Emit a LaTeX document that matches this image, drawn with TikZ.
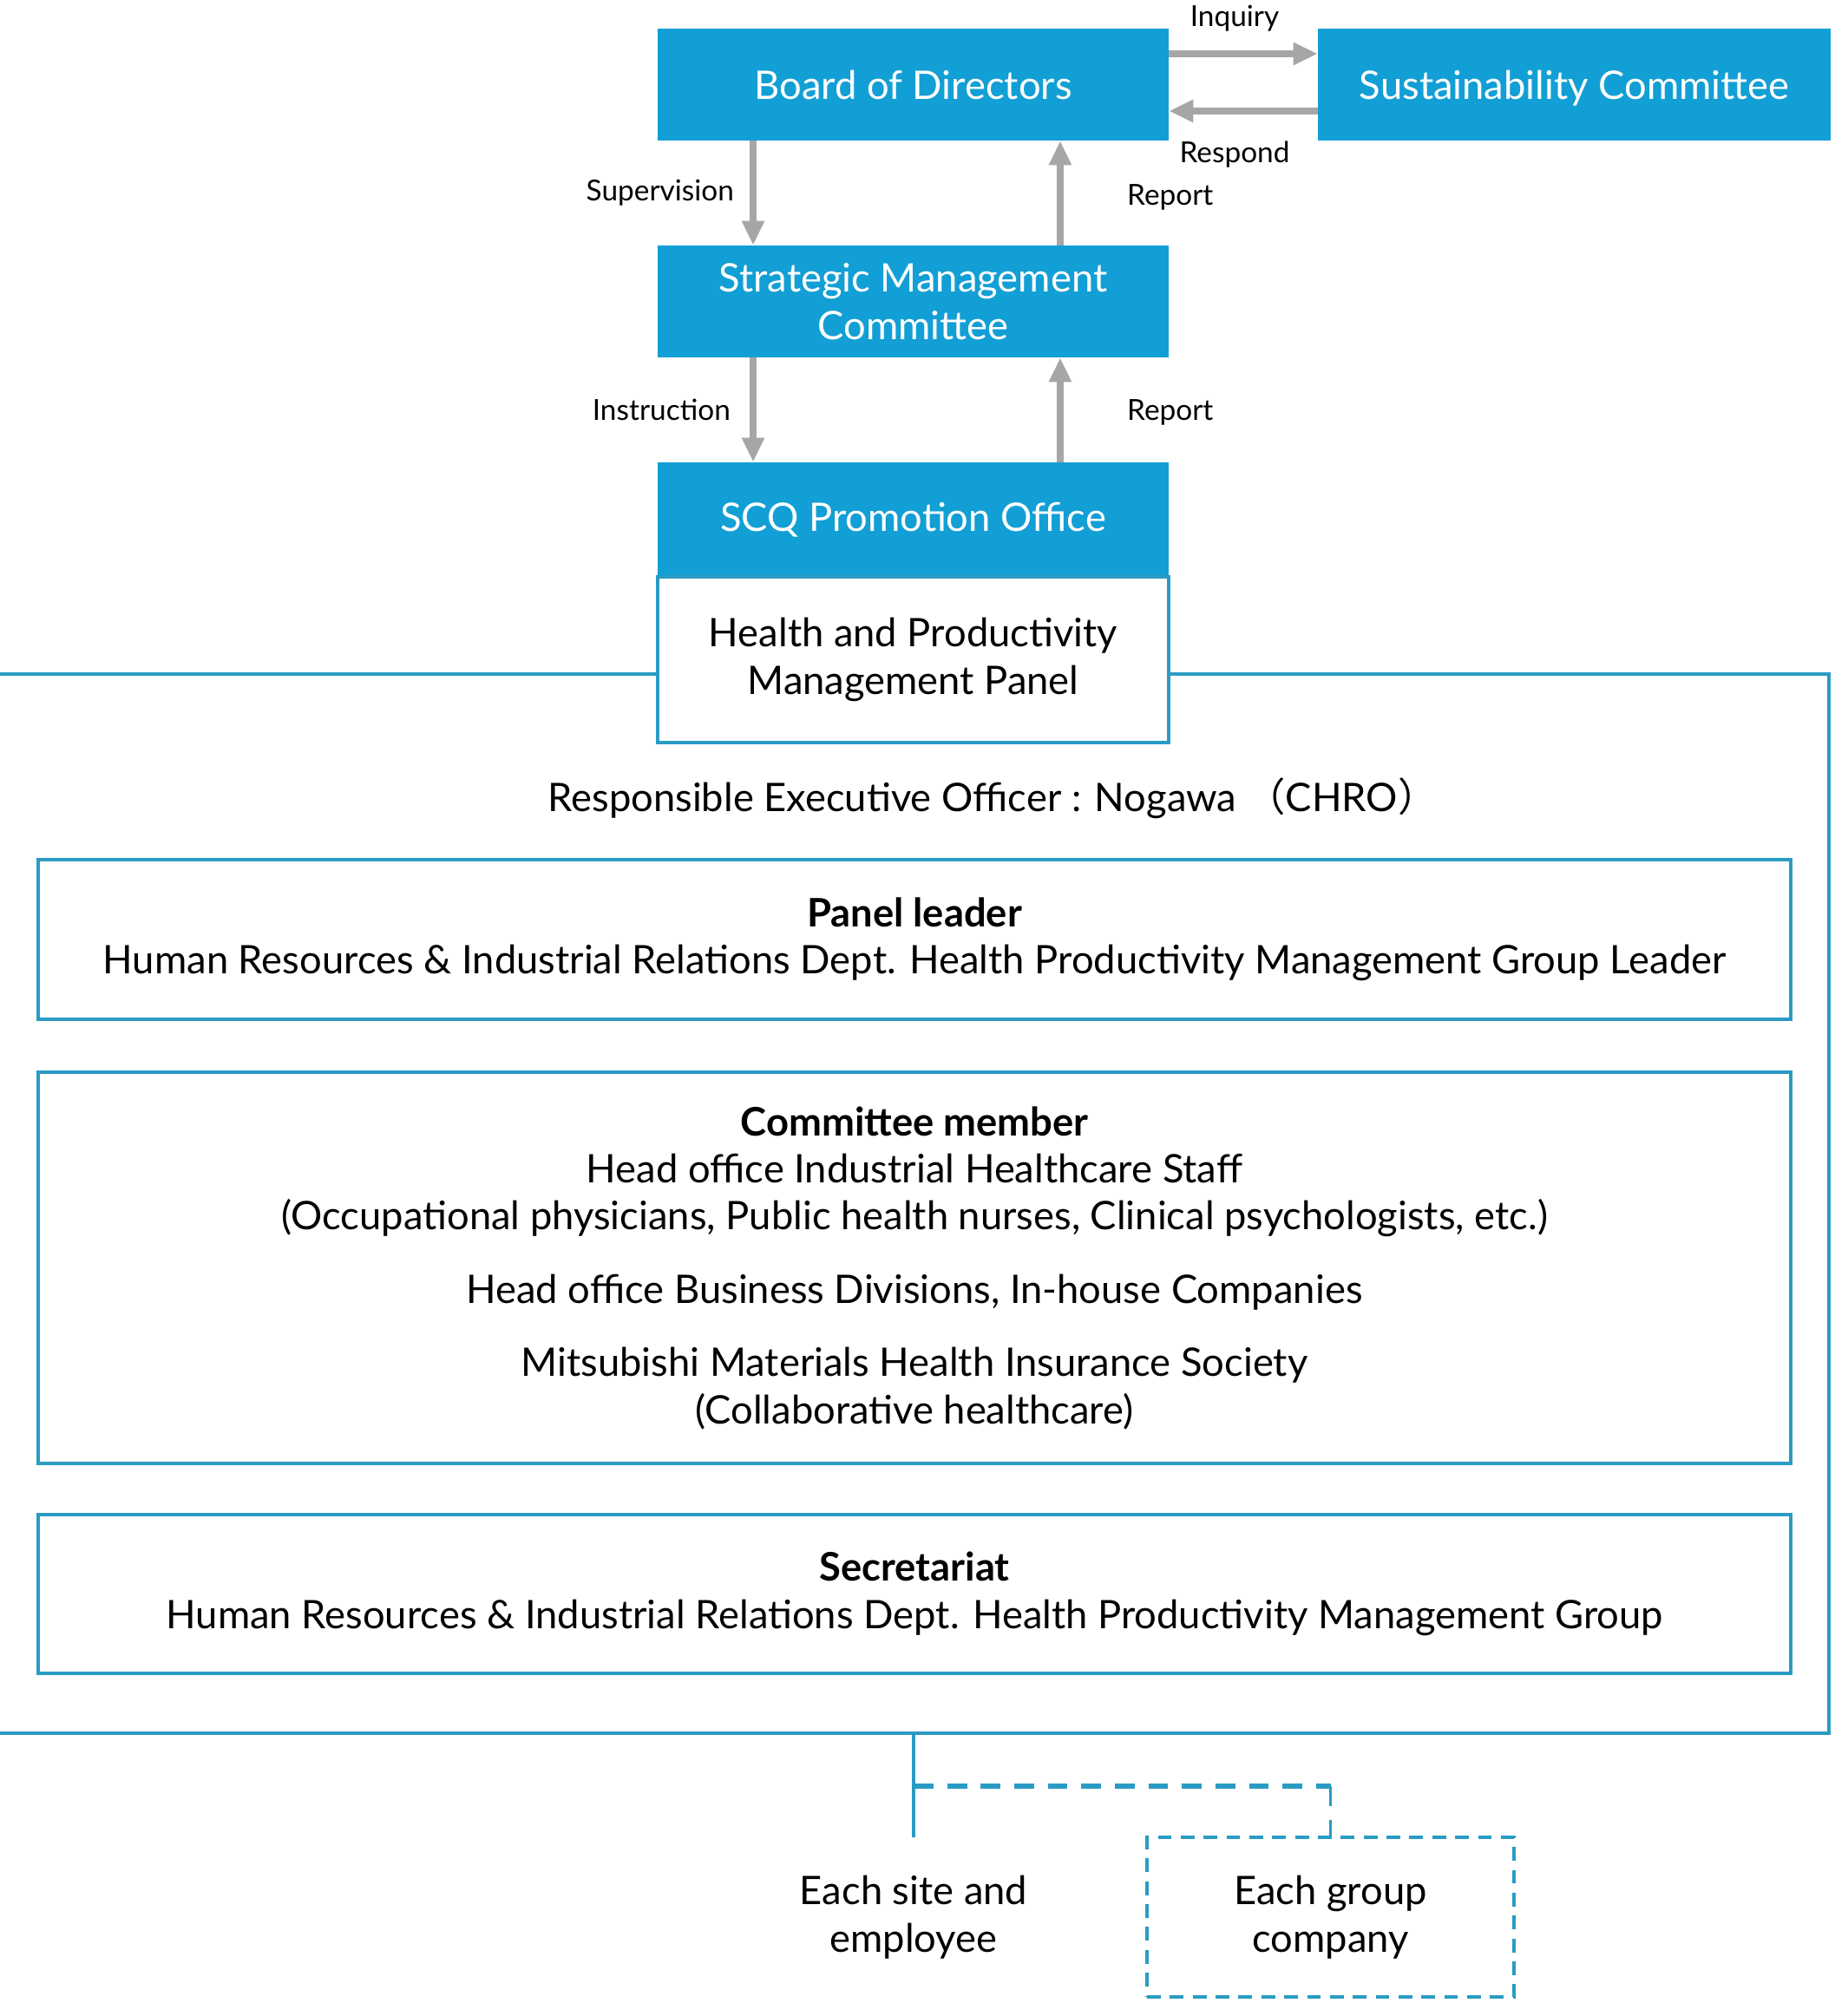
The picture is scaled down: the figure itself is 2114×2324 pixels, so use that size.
\documentclass[tikz,border=0pt]{standalone}
\usepackage{fontspec}
\setmainfont{Lato}
\newfontfamily\cjk{Noto Sans CJK JP}
\usetikzlibrary{arrows.meta}

\definecolor{scqblue}{HTML}{129FD5}
\definecolor{frameblue}{HTML}{2A9BC4}
\definecolor{arrowgray}{HTML}{A6A6A6}

\newcommand{\mainsize}{\fontsize{25.8}{31}\selectfont}
\newcommand{\tagsize}{\fontsize{19}{22}\selectfont}

\tikzset{
  bluebox/.style={fill=scqblue, text=white, minimum width=11.78cm, minimum height=2.58cm,
    inner sep=0pt, align=center, font=\mainsize},
  whitebox/.style={draw=frameblue, line width=2.5pt, fill=white, minimum width=11.78cm,
    minimum height=3.82cm, inner sep=0pt, align=center, font=\mainsize},
  rolebox/.style={draw=frameblue, line width=2.5pt, minimum width=40.4cm,
    inner sep=0pt, align=center, font=\mainsize},
  groupbox/.style={draw=frameblue, line width=2pt, dash pattern=on 9pt off 6pt,
    minimum width=8.46cm, minimum height=3.68cm, inner sep=0pt, align=center, font=\mainsize},
  grayarrow/.style={draw=arrowgray, line width=4.2pt, -{Triangle[length=16pt, width=14pt]}},
  tag/.style={font=\tagsize, inner sep=2pt},
  framelink/.style={draw=frameblue, line width=2.5pt},
  dashlink/.style={draw=frameblue, dash pattern=on 13pt off 9pt}
}

\begin{document}
\begin{tikzpicture}[x=0.02cm, y=-0.02cm]
\useasboundingbox (0,0) rectangle (2114,2324);

% Top boxes
\node[bluebox] (board) at (1052.5,97.5) {Board of Directors};
\node[bluebox, minimum width=11.82cm, text depth=0pt] (sust) at (1814.5,97.5) {Sustainability Committee};
\node[bluebox] (smc) at (1052.5,347.5) {Strategic Management\\Committee};
\node[bluebox, minimum height=2.64cm] (scq) at (1052.5,599) {SCQ Promotion Office};

% Inquiry and respond
\draw[grayarrow] ([yshift=0.71cm]board.east) -- ([yshift=0.71cm]sust.west)
  node[tag, midway, above=0.38cm, xshift=-0.2cm] {Inquiry};
\draw[grayarrow] ([yshift=-0.61cm]sust.west) -- ([yshift=-0.61cm]board.east)
  node[tag, midway, below=0.55cm, xshift=-0.2cm] {Respond};

% Supervision, instruction and reports
\draw[grayarrow] ([xshift=-3.69cm]board.south) -- ([xshift=-3.69cm]smc.north)
  node[tag, midway, left=0.3cm] {Supervision};
\draw[grayarrow] ([xshift=3.39cm]smc.north) -- ([xshift=3.39cm]board.south)
  node[tag, midway, right=1.4cm, yshift=-0.1cm] {Report};
\draw[grayarrow] ([xshift=-3.69cm]smc.south) -- ([xshift=-3.69cm]scq.north)
  node[tag, midway, left=0.38cm] {Instruction};
\draw[grayarrow] ([xshift=3.39cm]scq.north) -- ([xshift=3.39cm]smc.south)
  node[tag, midway, right=1.4cm, yshift=-0.05cm] {Report};

% Outer frame round the panel
\coordinate (ftl) at (-20,777);
\coordinate (ftr) at (2108,777);
\coordinate (fbr) at (2108,1998);
\coordinate (fbl) at (-20,1998);
\node[whitebox] (panel) at (1052.5,760.5) {Health and Productivity\\Management Panel};
\draw[framelink] (panel.west |- ftl) -- (ftl) -- (fbl) -- (fbr) -- (ftr) -- (panel.east |- ftr);

\node[font=\mainsize] (officer) at (1144,920)
  {Responsible Executive Officer : Nogawa {\cjk （}CHRO{\cjk ）}};

% Panel members
\node[rolebox, minimum height=3.68cm] (leader) at (1054,1083)
  {\textbf{Panel leader}\\Human Resources \& Industrial Relations Dept. Health Productivity Management Group Leader};
\node[rolebox, minimum height=9.02cm] (member) at (1054,1461.5)
  {\textbf{Committee member}\\Head office Industrial Healthcare Staff\\
   (Occupational physicians, Public health nurses, Clinical psychologists, etc.)\\[17pt]
   Head office Business Divisions, In-house Companies\\[17pt]
   Mitsubishi Materials Health Insurance Society\\(Collaborative healthcare)};
\node[rolebox, minimum height=3.66cm] (secretariat) at (1054,1837.5)
  {\textbf{Secretariat}\\Human Resources \& Industrial Relations Dept. Health Productivity Management Group};

% Sites and group companies
\node[font=\mainsize, align=center, minimum height=3.68cm] (site) at (1053,2210) {Each site and\\employee};
\node[groupbox] (group) at (1533.5,2210) {Each group\\company};
\coordinate (branch) at (1053,2059);
\draw[framelink, line width=1.8pt] (fbl -| site.north) -- (site.north);
\draw[dashlink, line width=3.4pt] (branch) -- (branch -| group.north);
\draw[dashlink, line width=1.8pt] (branch -| group.north) -- (group.north);

\end{tikzpicture}
\end{document}
